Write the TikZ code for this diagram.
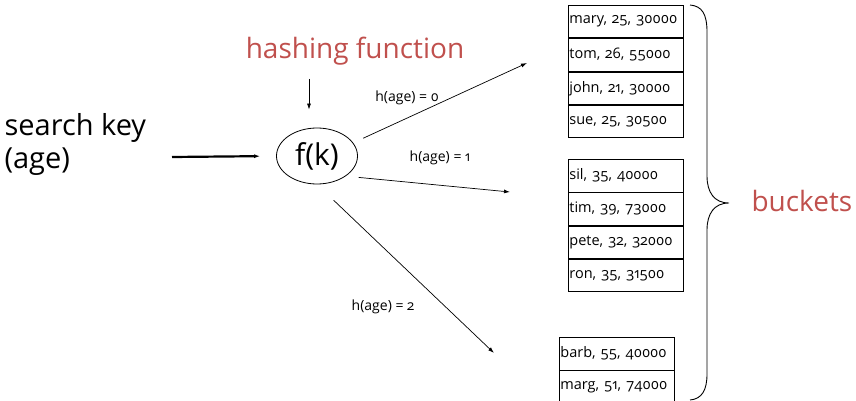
\documentclass[tikz,border=0pt]{standalone}
\usepackage{fontspec}
\setmainfont{Open Sans}[Numbers=OldStyle]
\usetikzlibrary{positioning,shapes.geometric,arrows.meta}
\definecolor{hashred}{HTML}{C0504D}
\tikzset{
  tip/.style={-{Latex[length=6pt,width=4pt]}, line width=0.7pt},
  rec/.style={draw, rectangle, line width=0.8pt, minimum width=115pt,
    minimum height=32.5pt, text width=113pt, align=left, inner sep=1pt,
    font=\fontsize{14.5}{17}\selectfont},
  lbl/.style={font=\fontsize{14}{16}\selectfont},
  big/.style={font=\fontsize{29}{33}\selectfont, align=left},
}
\begin{document}
\begin{tikzpicture}[x=1pt, y=-1pt]
  \clip (0,0) rectangle (856,401);
  \node (sk) [big, anchor=west] at (1,144) {search key\\(age)};
  \node (fk) [ellipse, draw, line width=0.8pt, minimum width=81pt, minimum height=56pt,
    inner sep=0pt, font=\fontsize{30}{34}\selectfont] at (317,156) {f(k)};
  \node (hf) [font=\fontsize{28}{32}\selectfont, text=hashred] at (355,51) {hashing function};
  \coordinate (hin) at (309,79);
  \coordinate (kin) at (172,157);
  \coordinate (e0) at (527,63);
  \coordinate (e1) at (510,192);
  \coordinate (e2) at (494,353);
  % bucket 0
  \node (b0a) [rec, anchor=north west] at (568,5) {mary, 25, 30000};
  \node (b0b) [rec, below=0pt of b0a] {tom, 26, 55000};
  \node (b0c) [rec, below=0pt of b0b] {john, 21, 30000};
  \node (b0d) [rec, below=0pt of b0c] {sue, 25, 30500};
  % bucket 1
  \node (b1a) [rec, anchor=north west] at (568,159) {sil, 35, 40000};
  \node (b1b) [rec, below=0pt of b1a] {tim, 39, 73000};
  \node (b1c) [rec, below=0pt of b1b] {pete, 32, 32000};
  \node (b1d) [rec, below=0pt of b1c] {ron, 35, 31500};
  % bucket 2
  \node (b2a) [rec, anchor=north west] at (559,337) {barb, 55, 40000};
  \node (b2b) [rec, below=0pt of b2a] {marg, 51, 74000};
  \node (bk) [font=\fontsize{28}{32}\selectfont, text=hashred, anchor=west] at (748,201) {buckets};
  % arrows
  \draw[tip, line width=2.2pt] (kin) -- (fk.west) [shorten >=16pt];
  \draw[tip] (hin) -- (hin |- fk.north) [shorten >=18pt];
  \draw[tip, shorten <=11pt] (fk.20) -- (e0);
  \draw[tip, shorten <=13pt] (fk.-35) -- (e1);
  \draw[tip, shorten <=23pt] (fk.south) -- (e2);
  \node (l0) [lbl] at (407,98) {h(age) = 0};
  \node (l1) [lbl] at (440,158) {h(age) = 1};
  \node (l2) [lbl] at (383,307) {h(age) = 2};
  % brace
  \draw[line width=0.9pt] (690,5) .. controls (702,6) and (707,14) .. (707,32)
    -- (707,176) .. controls (707,192) and (714,203) .. (729,203)
    .. controls (714,203) and (707,214) .. (707,230)
    -- (707,374) .. controls (707,390) and (702,399) .. (690,400);
\end{tikzpicture}
\end{document}
